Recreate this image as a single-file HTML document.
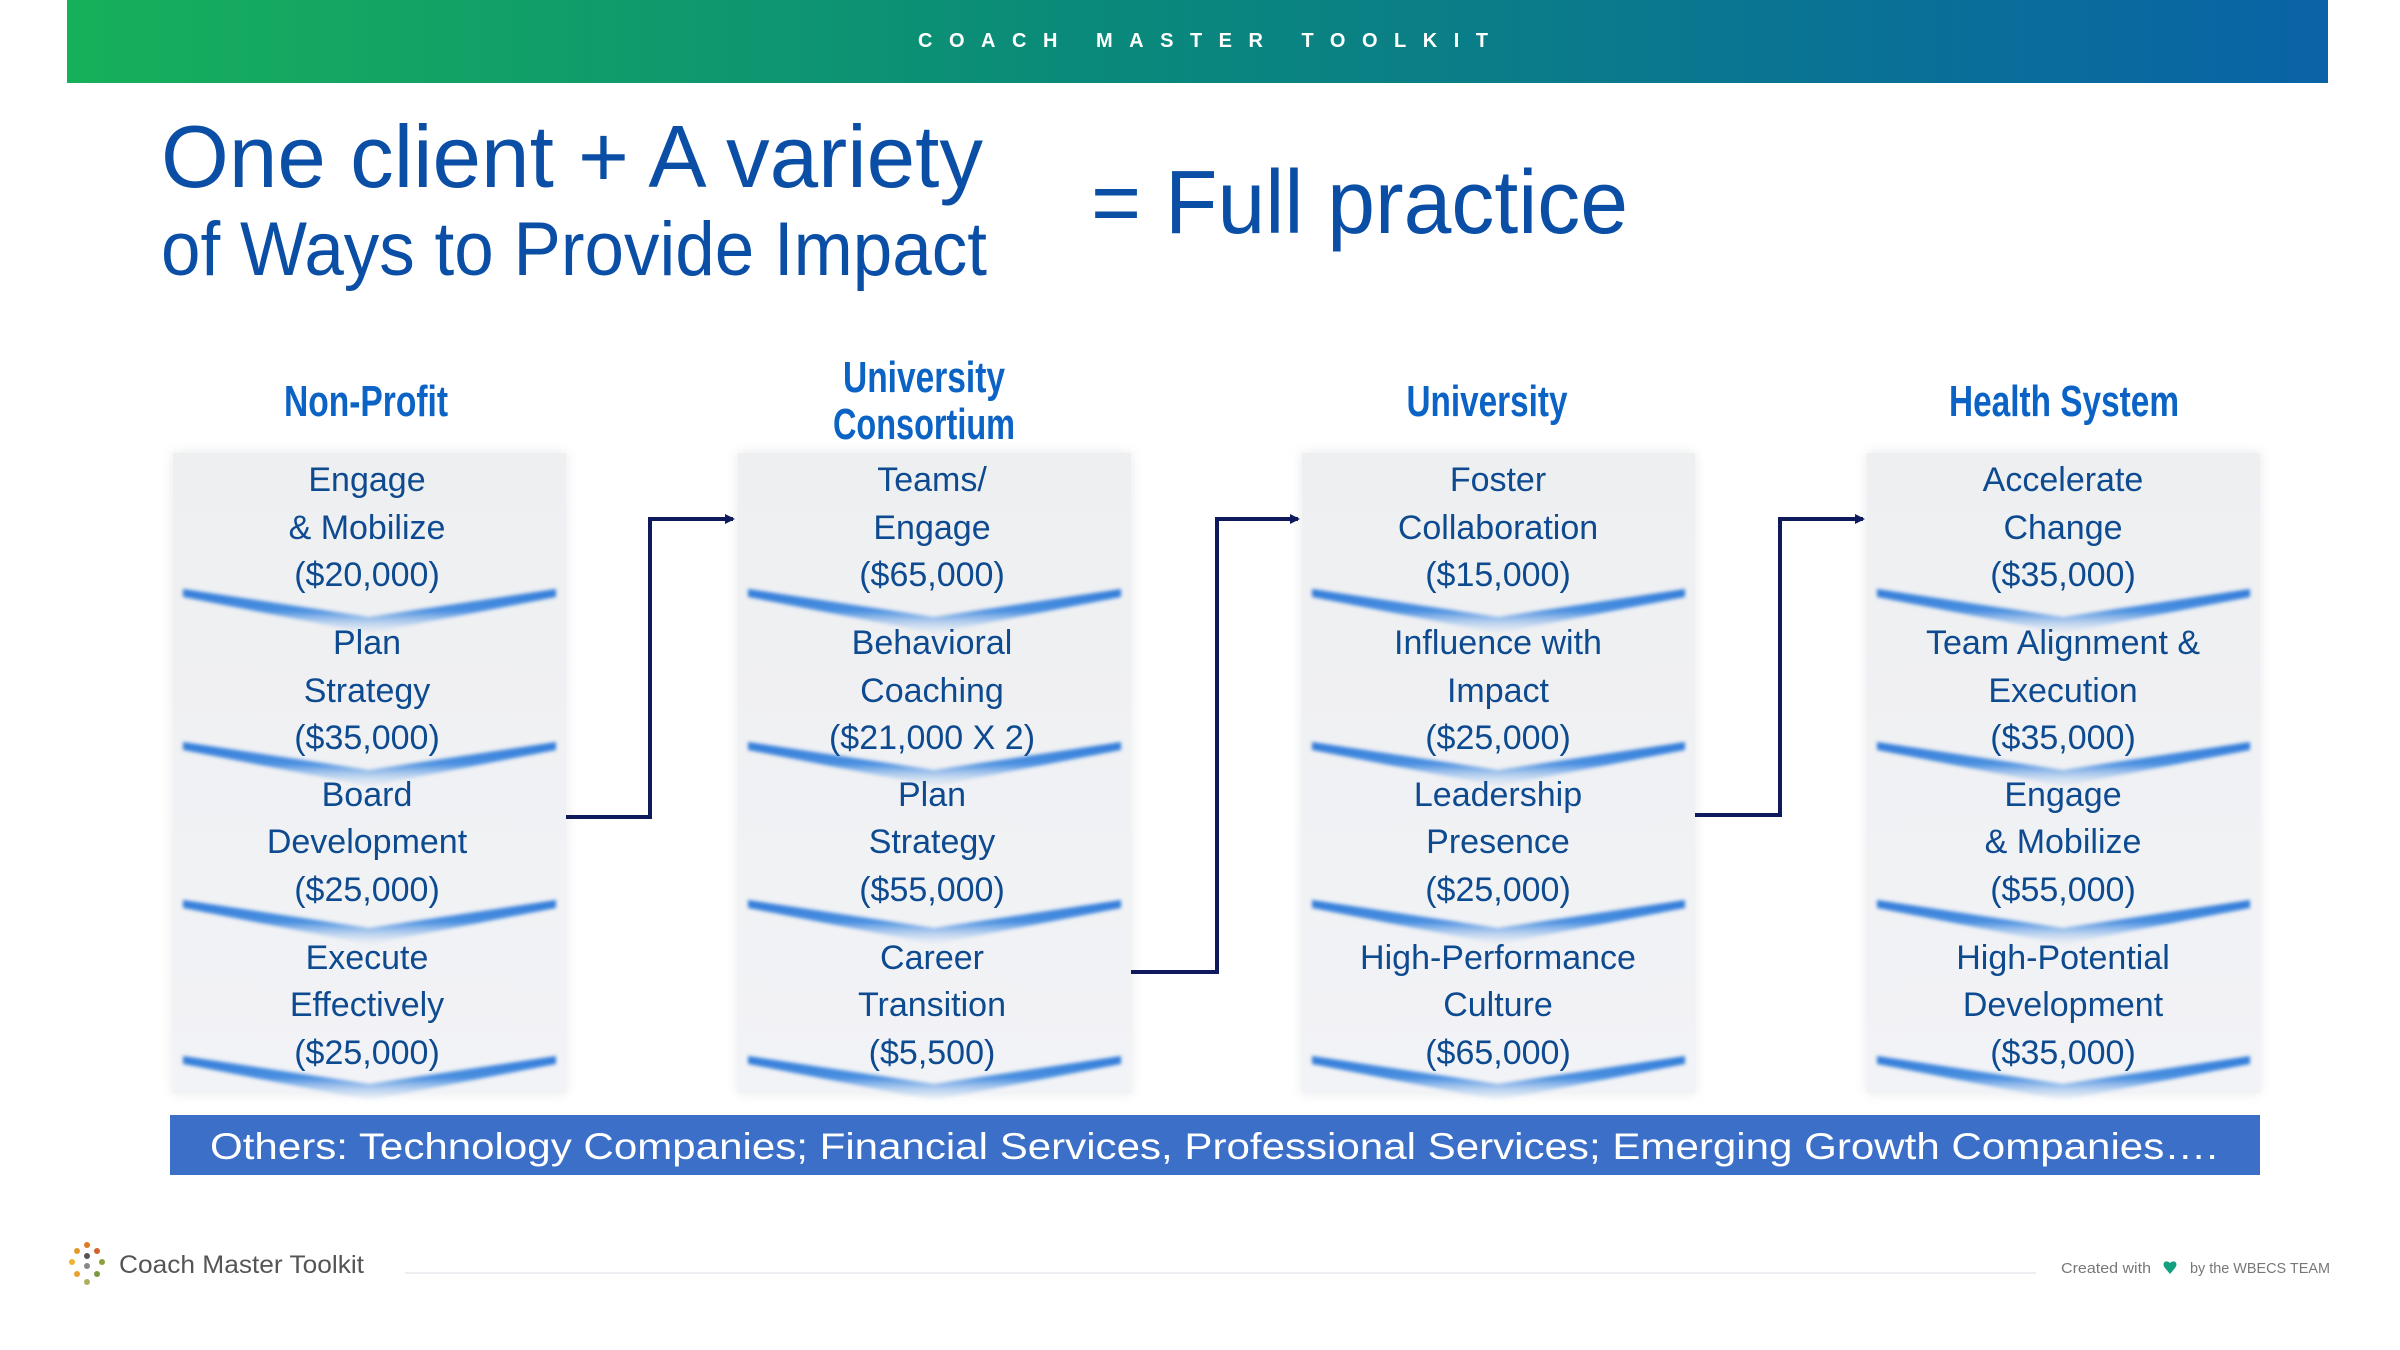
<!DOCTYPE html>
<html><head><meta charset="utf-8"><style>
html,body{margin:0;padding:0;background:#fff;}
svg{display:block;}
</style></head><body>
<svg width="2400" height="1350" viewBox="0 0 2400 1350" xmlns="http://www.w3.org/2000/svg" font-family="Liberation Sans, sans-serif">
<defs>
<linearGradient id="hdr" x1="0" x2="1" y1="0" y2="0">
<stop offset="0" stop-color="#17b05a"/><stop offset="0.45" stop-color="#0a8a7a"/><stop offset="1" stop-color="#0a63a6"/>
</linearGradient>
<linearGradient id="box" x1="0" x2="0" y1="0" y2="1">
<stop offset="0" stop-color="#eeeff1"/><stop offset="1" stop-color="#f2f3f6"/>
</linearGradient>
<linearGradient id="chev" x1="0" x2="0" y1="0" y2="1">
<stop offset="0" stop-color="#2f7ad8"/><stop offset="0.5" stop-color="#4a8fe0"/><stop offset="1" stop-color="#cfe0f5" stop-opacity="0.2"/>
</linearGradient>
<filter id="bl" x="-10%" y="-50%" width="120%" height="200%"><feGaussianBlur stdDeviation="1.8"/></filter>
<filter id="sh" x="-5%" y="-5%" width="110%" height="110%"><feGaussianBlur stdDeviation="6"/></filter>
<marker id="ar" markerWidth="10" markerHeight="10" refX="8" refY="5" orient="auto" markerUnits="userSpaceOnUse">
<path d="M0,0 L10,5 L0,10 z" fill="#0f1a5c"/></marker>
<path id="cv" d="M0,0 L186,28 L373,0 L373,8 L186,44 L0,8Z"/>
</defs>
<rect width="2400" height="1350" fill="#fff"/>
<rect x="67" y="0" width="2261" height="83" fill="url(#hdr)"/>
<text x="918" y="47" fill="#fff" font-size="20" font-weight="bold" textLength="570" lengthAdjust="spacing">COACH MASTER TOOLKIT</text>

<g fill="#0a4fa5">
<text x="161" y="187" font-size="88" textLength="822" lengthAdjust="spacingAndGlyphs">One client + A variety</text>
<text x="161" y="275" font-size="76" textLength="826" lengthAdjust="spacingAndGlyphs">of Ways to Provide Impact</text>
<text x="1091" y="233" font-size="90" textLength="537" lengthAdjust="spacingAndGlyphs">= Full practice</text>
</g>

<g fill="#0b63c5" font-family="Liberation Sans Narrow, Liberation Sans, sans-serif" font-weight="bold" font-size="44" text-anchor="middle">
<text x="366" y="416" textLength="164" lengthAdjust="spacingAndGlyphs">Non-Profit</text>
<text x="924" y="392" textLength="162" lengthAdjust="spacingAndGlyphs">University</text>
<text x="924" y="439" textLength="182" lengthAdjust="spacingAndGlyphs">Consortium</text>
<text x="1487" y="416" textLength="161" lengthAdjust="spacingAndGlyphs">University</text>
<text x="2064" y="416" textLength="230" lengthAdjust="spacingAndGlyphs">Health System</text>
</g>

<g>
<rect x="173" y="453" width="393" height="640" fill="#e6e7ea" filter="url(#sh)"/>
<rect x="173" y="453" width="393" height="640" fill="url(#box)"/>
<rect x="738" y="453" width="393" height="640" fill="#e6e7ea" filter="url(#sh)"/>
<rect x="738" y="453" width="393" height="640" fill="url(#box)"/>
<rect x="1302" y="453" width="393" height="640" fill="#e6e7ea" filter="url(#sh)"/>
<rect x="1302" y="453" width="393" height="640" fill="url(#box)"/>
<rect x="1867" y="453" width="393" height="640" fill="#e6e7ea" filter="url(#sh)"/>
<rect x="1867" y="453" width="393" height="640" fill="url(#box)"/>
</g>
<g fill="url(#chev)" filter="url(#bl)">
<use href="#cv" x="183" y="589"/><use href="#cv" x="183" y="742"/><use href="#cv" x="183" y="900"/><use href="#cv" x="183" y="1056"/>
<use href="#cv" x="748" y="589"/><use href="#cv" x="748" y="742"/><use href="#cv" x="748" y="900"/><use href="#cv" x="748" y="1056"/>
<use href="#cv" x="1312" y="589"/><use href="#cv" x="1312" y="742"/><use href="#cv" x="1312" y="900"/><use href="#cv" x="1312" y="1056"/>
<use href="#cv" x="1877" y="589"/><use href="#cv" x="1877" y="742"/><use href="#cv" x="1877" y="900"/><use href="#cv" x="1877" y="1056"/>
</g>

<g fill="#0d4a8f" font-size="34" text-anchor="middle">
<text x="367" y="491">Engage</text><text x="367" y="539">&amp; Mobilize</text><text x="367" y="586">($20,000)</text>
<text x="367" y="654">Plan</text><text x="367" y="702">Strategy</text><text x="367" y="749">($35,000)</text>
<text x="367" y="806">Board</text><text x="367" y="853">Development</text><text x="367" y="901">($25,000)</text>
<text x="367" y="969">Execute</text><text x="367" y="1016">Effectively</text><text x="367" y="1064">($25,000)</text>

<text x="932" y="491">Teams/</text><text x="932" y="539">Engage</text><text x="932" y="586">($65,000)</text>
<text x="932" y="654">Behavioral</text><text x="932" y="702">Coaching</text><text x="932" y="749">($21,000 X 2)</text>
<text x="932" y="806">Plan</text><text x="932" y="853">Strategy</text><text x="932" y="901">($55,000)</text>
<text x="932" y="969">Career</text><text x="932" y="1016">Transition</text><text x="932" y="1064">($5,500)</text>

<text x="1498" y="491">Foster</text><text x="1498" y="539">Collaboration</text><text x="1498" y="586">($15,000)</text>
<text x="1498" y="654">Influence with</text><text x="1498" y="702">Impact</text><text x="1498" y="749">($25,000)</text>
<text x="1498" y="806">Leadership</text><text x="1498" y="853">Presence</text><text x="1498" y="901">($25,000)</text>
<text x="1498" y="969">High-Performance</text><text x="1498" y="1016">Culture</text><text x="1498" y="1064">($65,000)</text>

<text x="2063" y="491">Accelerate</text><text x="2063" y="539">Change</text><text x="2063" y="586">($35,000)</text>
<text x="2063" y="654">Team Alignment &amp;</text><text x="2063" y="702">Execution</text><text x="2063" y="749">($35,000)</text>
<text x="2063" y="806">Engage</text><text x="2063" y="853">&amp; Mobilize</text><text x="2063" y="901">($55,000)</text>
<text x="2063" y="969">High-Potential</text><text x="2063" y="1016">Development</text><text x="2063" y="1064">($35,000)</text>
</g>

<g fill="none" stroke="#0f1a5c" stroke-width="4">
<path d="M566,817 H650 V519 H733" marker-end="url(#ar)"/>
<path d="M1131,972 H1217 V519 H1298" marker-end="url(#ar)"/>
<path d="M1695,815 H1780 V519 H1863" marker-end="url(#ar)"/>
</g>

<rect x="170" y="1115" width="2090" height="60" fill="#3b6fc8"/>
<text x="210" y="1159" fill="#fff" font-size="37" textLength="2008" lengthAdjust="spacingAndGlyphs">Others: Technology Companies; Financial Services, Professional Services; Emerging Growth Companies….</text>

<g>
<circle cx="87" cy="1245" r="3" fill="#e07a22"/>
<circle cx="77" cy="1251" r="3" fill="#e39a2a"/>
<circle cx="97" cy="1251" r="3" fill="#d4622a"/>
<circle cx="87" cy="1256" r="3" fill="#555"/>
<circle cx="72" cy="1262" r="3" fill="#f0b030"/>
<circle cx="102" cy="1262" r="3" fill="#8aa040"/>
<circle cx="87" cy="1266" r="3" fill="#888"/>
<circle cx="77" cy="1274" r="3" fill="#e8a030"/>
<circle cx="97" cy="1274" r="3" fill="#7a9a40"/>
<circle cx="87" cy="1282" r="3" fill="#aab060"/>
</g>
<text x="119" y="1273" fill="#555" font-size="25" textLength="245" lengthAdjust="spacingAndGlyphs">Coach Master Toolkit</text>
<rect x="405" y="1272" width="1631" height="2" fill="#eeeef2"/>
<text x="2061" y="1273" fill="#777" font-size="15" textLength="90" lengthAdjust="spacingAndGlyphs">Created with</text>
<path d="M2170,1263 c-4,-4 -9,0 -5,5 l5,6 l5,-6 c4,-5 -1,-9 -5,-5z" fill="#12a080"/>
<text x="2190" y="1273" fill="#777" font-size="15" textLength="140" lengthAdjust="spacingAndGlyphs">by the WBECS TEAM</text>
</svg>
</body></html>
